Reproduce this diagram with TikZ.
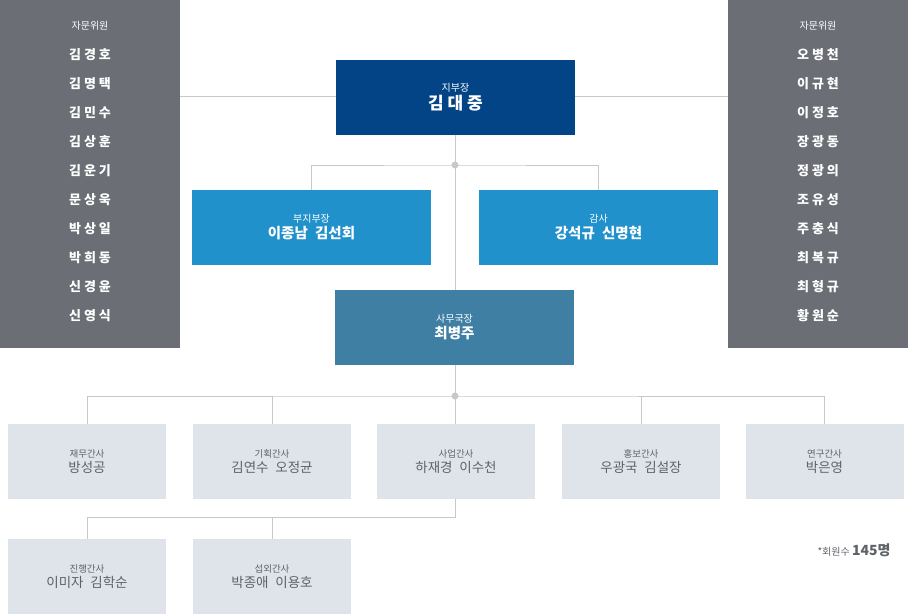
\documentclass[tikz,border=0pt]{standalone}
\usepackage{fontspec}
\setmainfont{Noto Sans CJK KR}
\usetikzlibrary{positioning}
\definecolor{panelgray}{HTML}{6B6E75}
\definecolor{chiefblue}{HTML}{034486}
\definecolor{deputyblue}{HTML}{2191CB}
\definecolor{officeblue}{HTML}{3F7FA3}
\definecolor{staffgray}{HTML}{DFE4EB}
\definecolor{stafftext}{HTML}{5F6368}
\definecolor{linegray}{HTML}{C8C8C8}
\tikzset{
  topbox/.style={fill=#1, text=white, minimum width=239pt, minimum height=75pt, inner sep=0pt, align=center},
  staffbox/.style={fill=staffgray, text=stafftext, minimum width=158pt, minimum height=75pt, inner sep=0pt, align=center},
  link/.style={draw=linegray, line width=0.8pt},
  joint/.style={circle, fill=linegray, inner sep=0pt, minimum size=7pt},
}
\newcommand{\rolename}[2]{{\fontsize{10}{12}\selectfont #1}\\[2pt]{\fontsize{14.5}{17}\selectfont\bfseries #2}}
\newcommand{\staffname}[2]{{\fontsize{9.5}{11}\selectfont #1}\\[3pt]{\fontsize{13.5}{16}\selectfont #2}}
\begin{document}
\begin{tikzpicture}[x=1pt,y=-1pt]
  \useasboundingbox (0,0) rectangle (908,614);

  % advisory panels
  \fill[panelgray] (0,0) rectangle (180,348);
  \fill[panelgray] (728,0) rectangle (908,348);
  \draw[link] (180,96) -- (728,96);
  \node[text=white, font=\fontsize{10}{12}\selectfont] (advL) at (90,26) {자문위원};
  \node[text=white, font=\fontsize{10}{12}\selectfont] (advR) at (818,26) {자문위원};
  \foreach \nm [count=\i] in {김 경 호,김 명 택,김 민 수,김 상 훈,김 운 기,문 상 욱,박 상 일,박 희 동,신 경 윤,신 영 식}
    \node[text=white, font=\fontsize{13}{15}\selectfont\bfseries] (advL\i) at (90,26+29*\i) {\nm};
  \foreach \nm [count=\i] in {오 병 천,이 규 현,이 정 호,장 광 동,정 광 의,조 유 성,주 충 식,최 복 규,최 형 규,황 원 순}
    \node[text=white, font=\fontsize{13}{15}\selectfont\bfseries] (advR\i) at (818,26+29*\i) {\nm};

  % executives
  \node[topbox=chiefblue] (chief) at (455.5,97) {\rolename{지부장}{\fontsize{17}{20}\selectfont 김 대 중}};
  \node[topbox=deputyblue] (deputy) at (311.5,227.5) {\rolename{부지부장}{이종남\enspace 김선회}};
  \node[topbox=deputyblue] (audit) at (598.5,227.5) {\rolename{감사}{강석규\enspace 신명현}};
  \node[topbox=officeblue] (office) at (454.5,327.5) {\rolename{사무국장}{최병주}};

  \coordinate (j1) at (455,165);
  \draw[link] (chief.south -| j1) -- (office.north -| j1);
  \draw[link] (deputy.north) |- (j1) -| (audit.north);
  \node[joint] at (j1) {};

  % staff
  \node[staffbox] (finance) at (87,461.5) {\staffname{재무간사}{방성공}};
  \node[staffbox] (plan) at (272,461.5) {\staffname{기획간사}{김연수\enspace 오정균}};
  \node[staffbox] (business) at (456,461.5) {\staffname{사업간사}{하재경\enspace 이수천}};
  \node[staffbox] (pr) at (641,461.5) {\staffname{홍보간사}{우광국\enspace 김설장}};
  \node[staffbox] (research) at (824.5,461.5) {\staffname{연구간사}{박은영}};
  \node[staffbox] (progress) at (87,576.5) {\staffname{진행간사}{이미자\enspace 김학순}};
  \node[staffbox] (liaison) at (272,576.5) {\staffname{섭외간사}{박종애\enspace 이용호}};

  \coordinate (j2) at (455,396);
  \draw[link] (office.south -| j2) -- (business.north -| j2);
  \draw[link] (finance.north) |- (j2) -| (research.north);
  \draw[link] (plan.north) -- (plan.north |- j2);
  \draw[link] (pr.north) -- (pr.north |- j2);
  \node[joint] at (j2) {};

  \coordinate (j3) at (455,517);
  \draw[link] (business.south -| j3) -- (j3) -| (progress.north);
  \draw[link] (liaison.north) -- (liaison.north |- j3);

  % member count
  \node[text=stafftext, anchor=east] (members) at (894,550) {{\fontsize{10}{12}\selectfont *회원수 }{\fontsize{14}{16}\selectfont\bfseries 145명}};
\end{tikzpicture}
\end{document}
